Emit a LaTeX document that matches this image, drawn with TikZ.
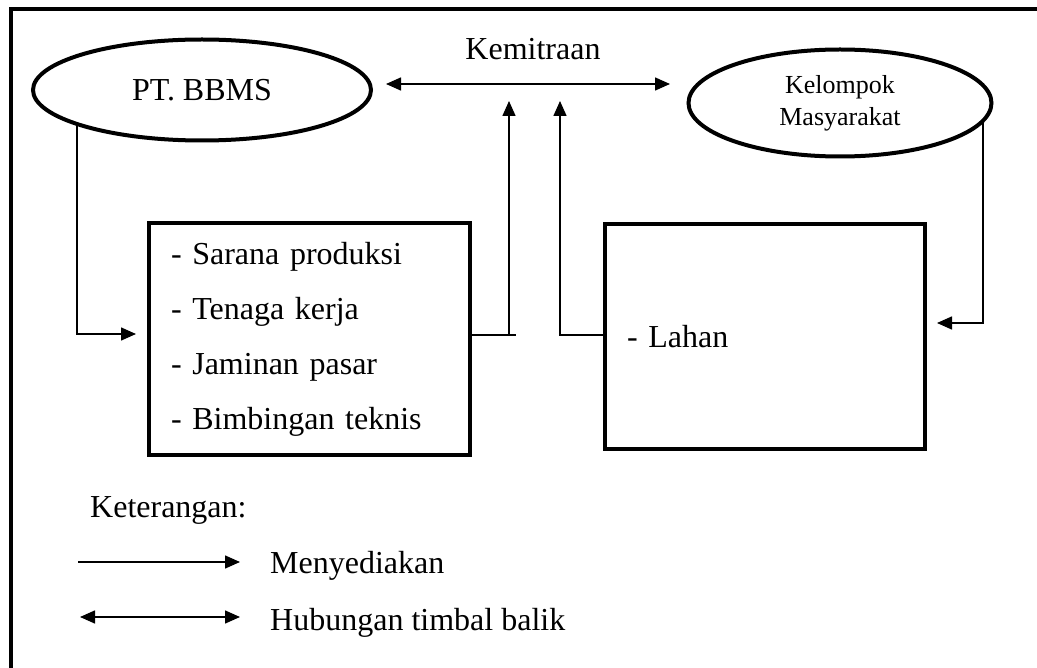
\documentclass[tikz,border=0pt]{standalone}
\usepackage{fontspec}
\setmainfont{Liberation Serif}
\usetikzlibrary{shapes.geometric,arrows.meta}

\begin{document}
\begin{tikzpicture}[x=1pt,y=-1pt,
		oval/.style={draw,ellipse,line width=4pt,inner sep=0pt},
		kotak/.style={draw,rectangle,line width=4pt,inner xsep=22pt,inner ysep=0pt,align=left,anchor=north west},
		panah/.style={line width=1.5pt,-{Triangle[length=15pt,width=13pt]}},
		huruf/.style={font=\fontsize{32}{55}\selectfont,inner sep=0pt}]
	\useasboundingbox (0,0) rectangle (1037,668);
	
	% Frame
	\draw[line width=4pt] (10.5,668) -- (10.5,9.5) -- (1037,9.5);
	
	% Ovals
	\node[oval,minimum width=338pt,minimum height=101pt,huruf] (pt) at (202,90) {PT. BBMS};
	\node[oval,minimum width=303pt,minimum height=107pt,font=\fontsize{26}{32}\selectfont,align=center] (km) at (840,103) {Kelompok\\Masyarakat};
	
	% Boxes
	\node[huruf,kotak,text width=277pt,minimum height=232pt] (box1) at (147,221)
		{- Sarana produksi\\- Tenaga kerja\\- Jaminan pasar\\- Bimbingan teknis};
	\node[huruf,kotak,text width=276pt,minimum height=225pt] (box2) at (603,222) {- Lahan};
	
	% Kemitraan
	\coordinate (kiri) at (386,84);
	\coordinate (kanan) at (670,84);
	\draw[panah,{Triangle[length=15pt,width=13pt]}-{Triangle[length=15pt,width=13pt]}] (kiri) -- (kanan);
	\node[huruf,anchor=base] (kemitraan) at (533,60) {Kemitraan};
	
	% Arrows
	\coordinate (atas1) at (509,101);
	\coordinate (atas2) at (560,101);
	\draw[panah,shorten >=11pt] (pt.196) |- ([yshift=5pt]box1.west);
	\draw[line width=1.5pt] ([yshift=4pt]box1.east) -- ++(44,0);
	\draw[panah] ([yshift=4pt]box1.east) -| (atas1);
	\draw[panah] ([yshift=1.5pt]box2.west) -| (atas2);
	\draw[panah,shorten >=10pt] (km.352) |- ([yshift=13.5pt]box2.east);
	
	% Keterangan
	\node[huruf,anchor=base west] (ket) at (90,517) {Keterangan:};
	\node[huruf,anchor=base west] (sedia) at (270,573) {Menyediakan};
	\node[huruf,anchor=base west] (timbal) at (270,630) {Hubungan timbal balik};
	\coordinate (s1) at (78,562);
	\coordinate (s2) at (240,562);
	\coordinate (t1) at (80,617);
	\coordinate (t2) at (240,617);
	\draw[panah] (s1) -- (s2);
	\draw[panah,{Triangle[length=15pt,width=13pt]}-{Triangle[length=15pt,width=13pt]}] (t1) -- (t2);
\end{tikzpicture}
\end{document}
